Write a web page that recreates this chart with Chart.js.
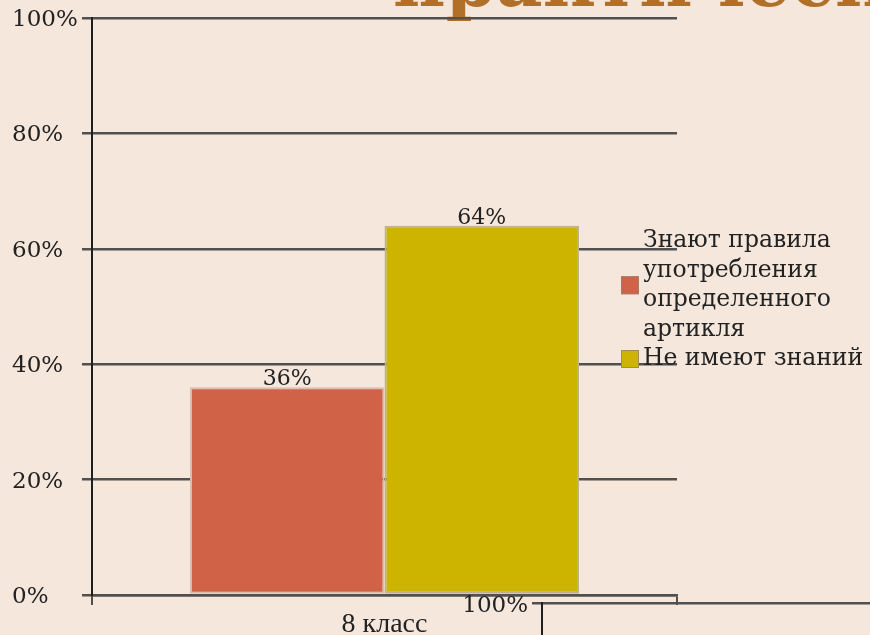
<!DOCTYPE html>
<html><head><meta charset="utf-8">
<script src="https://cdn.jsdelivr.net/npm/chart.js@4.4.1/dist/chart.umd.min.js"></script>
<style>
html,body{margin:0;padding:0;background:#f5e7dc;overflow:hidden;width:870px;height:635px;position:relative;}
#main{position:absolute;left:0;top:0;width:870px;height:635px;}
#frag{position:absolute;left:450px;top:585px;width:500px;height:300px;}
</style></head><body>
<div id="main"><canvas id="c"></canvas></div>
<div id="frag"><canvas id="c2"></canvas></div>
<script>
const categories = ['8 класс'];
const seriesKnowName = ['Знают правила', 'употребления', 'определенного', 'артикля'];
const seriesNoneName = ['Не имеют знаний'];
const seriesKnow = [36];
const seriesNone = [64];
const yMin = 0, yMax = 100, yStep = 20;
const titleText = 'практическое';
const fragYMax = 100;

const RED = '#d06248', YEL = '#ccb400';
const GRID = '#505050', AXIS = '#1e1e1e', TXT = '#222';

const titlePlugin = {
  id: 'titleFrag',
  beforeDraw(chart) {
    const ctx = chart.ctx;
    ctx.save();
    ctx.font = 'bold 72px "DejaVu Serif"';
    ctx.fillStyle = '#b0702a';
    ctx.textAlign = 'left';
    ctx.textBaseline = 'alphabetic';
    ctx.fillText(titleText, chart.chartArea.left + 301, chart.chartArea.top - 12);
    ctx.restore();
  }
};

const labelsPlugin = {
  id: 'valLabels',
  afterDatasetsDraw(chart) {
    const ctx = chart.ctx;
    ctx.save();
    ctx.font = '22px "DejaVu Serif"';
    ctx.fillStyle = TXT;
    ctx.textAlign = 'center';
    ctx.textBaseline = 'alphabetic';
    chart.data.datasets.forEach((ds, i) => {
      const meta = chart.getDatasetMeta(i);
      meta.data.forEach((bar, j) => {
        ctx.fillText(ds.data[j] + '%', bar.x, bar.y - 2);
      });
    });
    ctx.restore();
  }
};

const legendPlugin = {
  id: 'sideLegend',
  afterDatasetsDraw(chart) {
    const ctx = chart.ctx;
    const ca = chart.chartArea;
    const items = [
      { lines: seriesKnowName, color: chart.data.datasets[0].backgroundColor },
      { lines: seriesNoneName, color: chart.data.datasets[1].backgroundColor }
    ];
    const lineH = 29.5;
    let y = ca.top + 223;
    ctx.save();
    ctx.font = '23.5px "DejaVu Serif"';
    ctx.textAlign = 'left';
    ctx.textBaseline = 'middle';
    items.forEach(it => {
      const first = y;
      it.lines.forEach(l => {
        ctx.fillStyle = TXT;
        ctx.fillText(l, ca.right - 34, y);
        y += lineH;
      });
      const cy = (first + y - lineH) / 2;
      ctx.fillStyle = it.color;
      ctx.fillRect(ca.right - 56, cy - 9, 18, 18);
      ctx.strokeStyle = 'rgba(150,130,110,0.8)';
      ctx.lineWidth = 1;
      ctx.strokeRect(ca.right - 56 + 0.5, cy - 9 + 0.5, 17, 17);
    });
    ctx.restore();
  }
};

new Chart(document.getElementById('c'), {
  type: 'bar',
  data: {
    labels: categories,
    datasets: [
      { label: seriesKnowName.join(' '), data: seriesKnow, backgroundColor: RED,
        borderColor: 'rgba(215,190,175,1)', borderWidth: 2, borderSkipped: false,
        categoryPercentage: 0.665, barPercentage: 1 },
      { label: seriesNoneName.join(' '), data: seriesNone, backgroundColor: YEL,
        borderColor: 'rgba(190,175,150,1)', borderWidth: 2, borderSkipped: false,
        categoryPercentage: 0.665, barPercentage: 1 }
    ]
  },
  options: {
    responsive: true,
    maintainAspectRatio: false,
    animation: false,
    layout: { padding: { top: 18, right: 193, left: 12, bottom: 0 } },
    plugins: { legend: { display: false }, tooltip: { enabled: false } },
    scales: {
      x: {
        grid: { offset: true, drawOnChartArea: false, drawTicks: true, tickLength: 10, color: GRID, lineWidth: 2 },
        border: { display: true, color: GRID, width: 2.5 },
        ticks: { font: { family: '"Liberation Serif"', size: 28 }, color: TXT, padding: 3 },
        afterFit(s) { s.height = 40; }
      },
      y: {
        min: yMin, max: yMax,
        ticks: { stepSize: yStep, callback: v => v + '%', font: { family: '"DejaVu Serif"', size: 23 },
                 color: TXT, crossAlign: 'far', padding: 4, labelOffset: 2 },
        grid: { color: GRID, lineWidth: 2.5, tickLength: 10 },
        border: { display: true, color: AXIS, width: 2 },
        afterFit(s) { s.width = 80; }
      }
    }
  },
  plugins: [titlePlugin, labelsPlugin, legendPlugin]
});

new Chart(document.getElementById('c2'), {
  type: 'bar',
  data: { labels: [''], datasets: [{ label: '', data: [] }] },
  options: {
    responsive: true,
    maintainAspectRatio: false,
    animation: false,
    layout: { padding: { top: 18, right: 0, left: 0, bottom: 0 } },
    plugins: { legend: { display: false }, tooltip: { enabled: false } },
    scales: {
      x: { display: false },
      y: {
        min: 0, max: fragYMax,
        ticks: { stepSize: fragYMax, callback: v => v + '%', font: { family: '"DejaVu Serif"', size: 23 }, color: TXT, padding: 4, labelOffset: 3 },
        grid: { color: GRID, lineWidth: 2.5, tickLength: 10 },
        border: { display: true, color: AXIS, width: 2 },
        afterFit(s) { s.width = 92; }
      }
    }
  }
});
</script>
</body></html>
